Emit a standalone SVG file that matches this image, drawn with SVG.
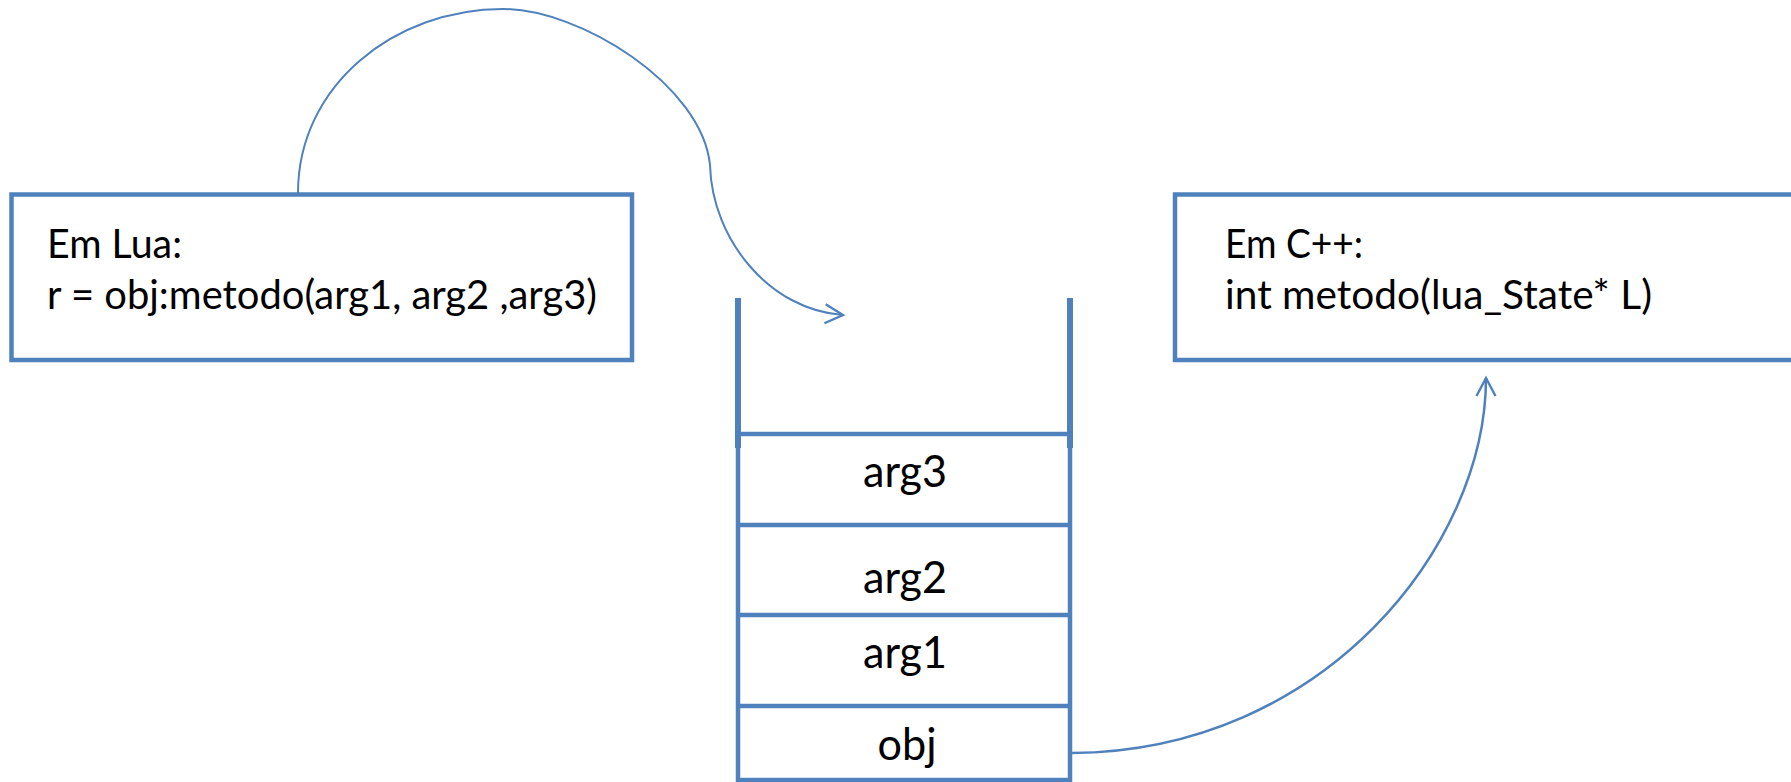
<svg xmlns="http://www.w3.org/2000/svg" width="1791" height="782" viewBox="0 0 1791 782">
  <style>
    .box { fill: #ffffff; stroke: #4F81BD; stroke-width: 4.5; }
    .cell { fill: none; stroke: #4F81BD; stroke-width: 4.5; }
    .wall { stroke: #4F81BD; stroke-width: 6; }
    .label { font-family: Lato, "Open Sans", "Liberation Sans", sans-serif; font-size: 40px; fill: #000000; }
    .slot { font-family: Lato, "Open Sans", "Liberation Sans", sans-serif; font-size: 44px; fill: #000000; text-anchor: middle; }
    .link { fill: none; stroke: #4F81BD; }
  </style>
  <defs>
    <marker id="chevron" markerUnits="userSpaceOnUse" orient="auto" refX="0" refY="0" markerWidth="40" markerHeight="40" viewBox="-25 -20 30 40" overflow="visible">
      <path d="M-18,-9.5 L0,0 L-18,9.5" fill="none" stroke="#4F81BD" stroke-width="2.4" stroke-linejoin="miter"/>
    </marker>
  </defs>

  <rect width="1791" height="782" fill="#ffffff"/>

  <!-- Lua side -->
  <g id="lua-box">
    <rect class="box" x="11.5" y="194.5" width="620.5" height="165.5"/>
    <text class="label" x="47" y="258" textLength="135" lengthAdjust="spacingAndGlyphs">Em Lua:</text>
    <text class="label" x="47" y="309" textLength="550" lengthAdjust="spacingAndGlyphs">r = obj:metodo(arg1, arg2 ,arg3)</text>
  </g>

  <!-- C++ side -->
  <g id="cpp-box">
    <rect class="box" x="1175" y="194.5" width="640" height="165.5"/>
    <text class="label" x="1225" y="258" textLength="138" lengthAdjust="spacingAndGlyphs">Em C++:</text>
    <text class="label" x="1225" y="309" textLength="427" lengthAdjust="spacingAndGlyphs">int metodo(lua_State* L)</text>
  </g>

  <!-- Lua stack -->
  <g id="stack">
    <line class="wall" x1="738" y1="298" x2="738" y2="448"/>
    <line class="wall" x1="1070" y1="298" x2="1070" y2="448"/>
    <rect class="cell" x="738" y="434" width="332" height="346"/>
    <line class="cell" x1="738" y1="525" x2="1070" y2="525"/>
    <line class="cell" x1="738" y1="615" x2="1070" y2="615"/>
    <line class="cell" x1="738" y1="706" x2="1070" y2="706"/>
  </g>
  <g id="slot-arg3"><text class="slot" x="905" y="487" textLength="84" lengthAdjust="spacingAndGlyphs">arg3</text></g>
  <g id="slot-arg2"><text class="slot" x="905" y="593" textLength="84" lengthAdjust="spacingAndGlyphs">arg2</text></g>
  <g id="slot-arg1"><text class="slot" x="905" y="668" textLength="84" lengthAdjust="spacingAndGlyphs">arg1</text></g>
  <g id="slot-obj"><text class="slot" x="907" y="760" textLength="59" lengthAdjust="spacingAndGlyphs">obj</text></g>

  <!-- connectors -->
  <g id="connectors">
    <path class="link" stroke-width="2" marker-end="url(#chevron)"
          d="M298,193 C298,85 395,9 503,9 C580,9 702,85 710,165 C712,240 770,310 843,315"/>
    <path class="link" stroke-width="2.5" marker-end="url(#chevron)"
          d="M1072,753 C1325,751 1486,545 1486,378"/>
  </g>
</svg>
